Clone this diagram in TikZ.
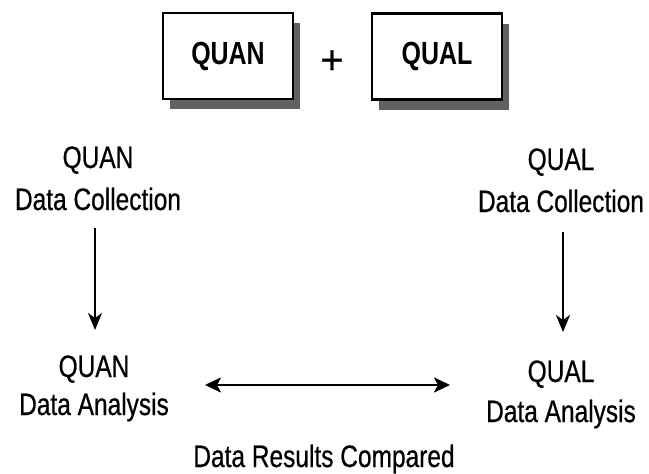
\documentclass[tikz,border=0pt]{standalone}
\usepackage{fontspec}
\setmainfont{Liberation Sans}
\newfontfamily\nsans[FakeStretch=0.79,FakeBold=0.6]{Liberation Sans}
\newfontfamily\bsans[FakeStretch=0.78]{Liberation Sans}
\newfontfamily\psans[FakeBold=0.6]{Liberation Sans}
\usetikzlibrary{arrows.meta,shadows}
\begin{document}
\begin{tikzpicture}[x=1pt,y=-1pt,
  lbl/.style={font=\nsans\fontsize{31}{40}\selectfont, align=center, inner sep=3pt, anchor=base},
  topbox/.style={draw, line width=2.2pt, fill=white, minimum width=130pt, minimum height=86pt,
     font=\bsans\bfseries\fontsize{32}{36}\selectfont,
     drop shadow={shadow xshift=7pt, shadow yshift=-10pt, fill=black!62, opacity=1}},
  arr/.style={line width=2.5pt, -{Stealth[length=17pt,width=14pt,inset=5pt]}},
  darr/.style={line width=2.6pt, {Stealth[length=16pt,width=15pt,inset=4pt]}-{Stealth[length=16pt,width=15pt,inset=4pt]}}]
\useasboundingbox[fill=white] (0,0) rectangle (649,474);
\node[topbox] (quan) at (228,56) {QUAN};
\node[topbox] (qual) at (437,56.5) {QUAL};
\node[font=\psans\fontsize{40}{44}\selectfont, inner sep=0pt] (plus) at (332,62) {+};
\node[lbl] (qnc) at (98,210) {QUAN\\[2pt]Data Collection};
\node[lbl] (qlc) at (561,212) {QUAL\\[2pt]Data Collection};
\node[lbl] (qna) at (94,415) {QUAN\\[-2pt]Data Analysis};
\node[lbl] (qla) at (561,422) {QUAL\\Data Analysis};
\node[lbl] (cmp) at (324,467) {Data Results Compared};
\coordinate (cL) at (205,385);
\coordinate (cR) at (450,385);
\coordinate (vl1) at (95,228);
\coordinate (vl2) at (95,330);
\coordinate (vr1) at (563,232);
\coordinate (vr2) at (563,332);
\draw[arr] (vl1) -- (vl2);
\draw[arr] (vr1) -- (vr2);
\draw[darr] (cL) -- (cR);
\end{tikzpicture}
\end{document}
